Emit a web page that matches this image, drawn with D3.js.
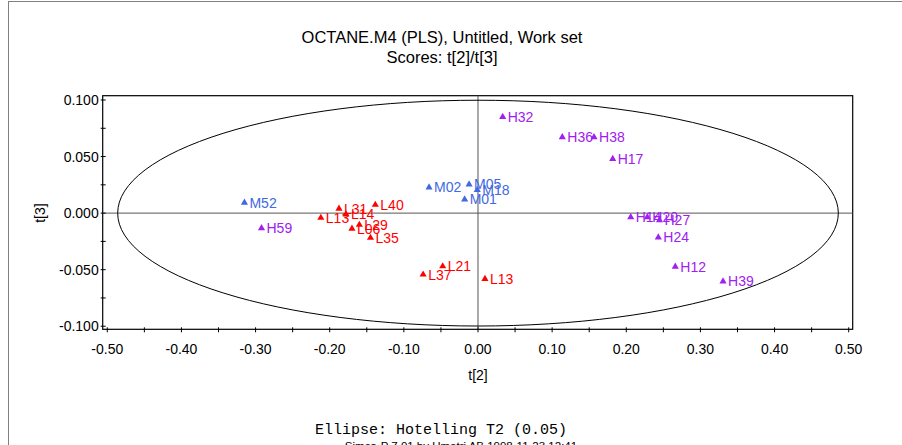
<!DOCTYPE html>
<html>
<head>
<meta charset="utf-8">
<script src="https://cdn.jsdelivr.net/npm/d3@7"></script>
<style>
  html, body { margin: 0; padding: 0; background: #fff; overflow: hidden; }
  svg text { font-family: "Liberation Sans", Arial, sans-serif; }
</style>
</head>
<body>
<div id="chart"></div>
<script>
// Sample names, scores and class
const names = ["M52", "H59", "L13", "L31", "L14", "L29", "L06", "L35", "L40",
    "M02", "M05", "M18", "M01", "L37", "L21", "L13",
    "H32", "H36", "H38", "H17", "H14", "H20", "H27", "H24", "H12", "H39"];
const t2 = [-0.315, -0.292, -0.212, -0.1875, -0.178, -0.160, -0.170, -0.145, -0.1385,
    -0.066, -0.012, -0.001, -0.018, -0.074, -0.0476, 0.0094,
    0.0333, 0.1137, 0.1565, 0.1817, 0.206, 0.2284, 0.2448, 0.2432, 0.2661, 0.3305];
const t3 = [0.0092, -0.0133, -0.0041, 0.0039, -0.0012, -0.0103, -0.0138, -0.0218, 0.0074,
    0.0228, 0.0254, 0.0206, 0.0121, -0.0543, -0.0470, -0.0582,
    0.0851, 0.0671, 0.0671, 0.0479, -0.0035, -0.0035, -0.0063, -0.0215, -0.0473, -0.0603];
const groups = names.map(n => n[0]);

const xTicks = [-0.5, -0.4, -0.3, -0.2, -0.1, 0, 0.1, 0.2, 0.3, 0.4, 0.5];
const yTicks = [-0.1, -0.05, 0, 0.05, 0.1];
const ellipseAxes = [0.486, 0.0998]; // Hotelling T2 (0.05)

const width = 902, height = 445;
const margin = { left: 102.7, right: 49.3, top: 95.7, bottom: 115.7 };

// plain hyphen for negatives, like the original
const locale = d3.formatLocale({ decimal: ".", thousands: ",", grouping: [3], currency: ["", ""], minus: "-" });
const fmt2 = locale.format(".2f");
const fmt3 = locale.format(".3f");

const color = d3.scaleOrdinal()
    .domain(["L", "M", "H"])
    .range(["#ff0000", "#4169e1", "#a020f0"]);

const svg = d3.select("#chart").append("svg")
    .attr("width", width)
    .attr("height", height);

// Outer frame
svg.append("rect")
    .attr("x", 8.5).attr("y", 1.5)
    .attr("width", 920).attr("height", 480)
    .attr("fill", "none")
    .attr("stroke", "#808080");

const x = d3.scaleLinear()
    .domain([-0.5062, 0.5054])
    .range([margin.left, width - margin.right]);
const y = d3.scaleLinear()
    .domain([-0.1027, 0.1038])
    .range([height - margin.bottom, margin.top]);

// Titles
svg.append("text")
    .attr("x", 442).attr("y", 43)
    .attr("text-anchor", "middle")
    .style("font-size", "16.5px")
    .text("OCTANE.M4 (PLS), Untitled, Work set");
svg.append("text")
    .attr("x", 442).attr("y", 63)
    .attr("text-anchor", "middle")
    .style("font-size", "16.5px")
    .text("Scores: t[2]/t[3]");

// Plot frame
svg.append("rect")
    .attr("x", x.range()[0]).attr("y", y.range()[1])
    .attr("width", x.range()[1] - x.range()[0])
    .attr("height", y.range()[0] - y.range()[1])
    .attr("fill", "none")
    .attr("stroke", "#000")
    .attr("stroke-width", 1.2);

// Zero lines
svg.append("line")
    .attr("x1", x.range()[0]).attr("x2", x.range()[1])
    .attr("y1", y(0)).attr("y2", y(0))
    .attr("stroke", "#555");
svg.append("line")
    .attr("x1", x(0)).attr("x2", x(0))
    .attr("y1", y.range()[1]).attr("y2", y.range()[0])
    .attr("stroke", "#555");

// Ellipse
svg.append("ellipse")
    .attr("cx", x(0)).attr("cy", y(0))
    .attr("rx", x(ellipseAxes[0]) - x(0))
    .attr("ry", y(0) - y(ellipseAxes[1]))
    .attr("fill", "none")
    .attr("stroke", "#000")
    .attr("stroke-width", 1);

// X axis
const xAxis = svg.append("g")
    .attr("transform", `translate(0,${y.range()[0]})`);
xAxis.selectAll("line.minor")
    .data(d3.range(-0.5, 0.5001, 0.05))
    .enter().append("line")
    .attr("x1", d => x(d)).attr("x2", d => x(d))
    .attr("y1", -2).attr("y2", 3)
    .attr("stroke", "#000");
xAxis.selectAll("text")
    .data(xTicks)
    .enter().append("text")
    .attr("x", d => x(d))
    .attr("y", 25)
    .attr("text-anchor", "middle")
    .style("font-size", "14px")
    .text(d => fmt2(d));

// Y axis
const yAxis = svg.append("g")
    .attr("transform", `translate(${x.range()[0]},0)`);
yAxis.selectAll("line.minor")
    .data(d3.range(-0.1, 0.1001, 0.025))
    .enter().append("line")
    .attr("x1", -2).attr("x2", 3)
    .attr("y1", d => y(d)).attr("y2", d => y(d))
    .attr("stroke", "#000");
yAxis.selectAll("text")
    .data(yTicks)
    .enter().append("text")
    .attr("x", -4)
    .attr("y", d => y(d) + 5)
    .attr("text-anchor", "end")
    .style("font-size", "14px")
    .text(d => fmt3(d));

// Axis titles
svg.append("text")
    .attr("x", x(0)).attr("y", 380)
    .attr("text-anchor", "middle")
    .style("font-size", "14px")
    .text("t[2]");
svg.append("text")
    .attr("transform", `translate(45,${y(0)}) rotate(-90)`)
    .attr("text-anchor", "middle")
    .style("font-size", "14px")
    .text("t[3]");

// Points
const pts = names.map((n, i) => ({ name: n, t2: t2[i], t3: t3[i], group: groups[i] }));
const tri = d3.symbol().type(d3.symbolTriangle).size(22);

const node = svg.append("g")
    .selectAll("g")
    .data(pts)
    .enter().append("g")
    .attr("transform", d => `translate(${x(d.t2)},${y(d.t3)})`);

node.append("path")
    .attr("d", tri)
    .attr("fill", d => color(d.group));

node.append("text")
    .attr("x", 5)
    .attr("y", 5)
    .style("font-size", "14px")
    .style("fill", d => color(d.group))
    .text(d => d.name);

// Footer
svg.append("text")
    .attr("x", 441).attr("y", 434)
    .attr("text-anchor", "middle")
    .style("font-family", "'Liberation Mono', 'Courier New', monospace")
    .style("font-size", "15px")
    .text("Ellipse: Hotelling T2 (0.05)");
svg.append("text")
    .attr("x", 461).attr("y", 450)
    .attr("text-anchor", "middle")
    .style("font-size", "11.5px")
    .text("Simca-P 7.01 by Umetri AB 1998-11-23 12:41");
</script>
</body>
</html>
